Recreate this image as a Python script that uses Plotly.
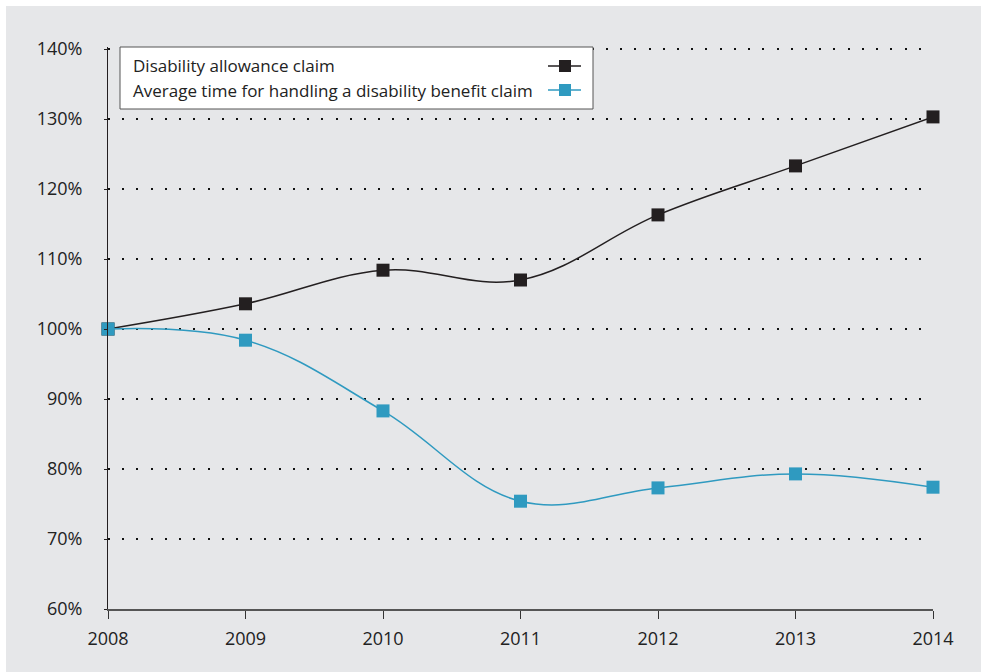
import plotly.graph_objects as go

years = [2008, 2009, 2010, 2011, 2012, 2013, 2014]
allowance_claims = [100, 103.6, 108.4, 107.0, 116.3, 123.3, 130.3]
handling_time = [100, 98.4, 88.3, 75.4, 77.3, 79.3, 77.4]
series_names = ["Disability allowance claim",
                "Average time for handling a disability benefit claim"]
y_ticks = [60, 70, 80, 90, 100, 110, 120, 130, 140]
y_tick_labels = [f"{v}%" for v in y_ticks]

BLACK = "#231f20"
BLUE = "#2f9ac0"
BG = "#e6e7e9"
FONT = "Open Sans"
TXT = "#222222"

W, H = 981, 672
L, R, T, B = 108, 933, 47, 609
Y_LO, PX_PER_UNIT = 60, 7.0
Y_HI = Y_LO + (B - T) / PX_PER_UNIT


def px(x):
    return (x - L) / (R - L)


def py(y):
    return (B - y) / (B - T)


fig = go.Figure()
fig.add_trace(go.Scatter(
    x=years, y=allowance_claims, mode="lines+markers", name=series_names[0],
    line=dict(color=BLACK, width=1.5, shape="spline", smoothing=1.1),
    marker=dict(symbol="square", size=13, color=BLACK), showlegend=False,
    cliponaxis=False))
fig.add_trace(go.Scatter(
    x=years, y=handling_time, mode="lines+markers", name=series_names[1],
    line=dict(color=BLUE, width=1.5, shape="spline", smoothing=1.1),
    marker=dict(symbol="square", size=13, color=BLUE), showlegend=False,
    cliponaxis=False))

shapes = [
    dict(type="rect", xref="paper", yref="paper", layer="below",
         x0=px(6), x1=px(W + 5), y0=py(H + 5), y1=py(6),
         fillcolor=BG, line=dict(width=0)),
    dict(type="rect", xref="paper", yref="paper", layer="above",
         x0=px(120), x1=px(593), y0=py(109), y1=py(47),
         fillcolor="white", line=dict(color="#555555", width=1)),
]
annotations = []
legend_rows = [(66, BLACK, series_names[0]), (90, BLUE, series_names[1])]
for yy, col, name in legend_rows:
    shapes.append(dict(type="line", xref="paper", yref="paper", layer="above",
                       x0=px(548), x1=px(581), y0=py(yy), y1=py(yy),
                       line=dict(color=col, width=1.5)))
    shapes.append(dict(type="rect", xref="paper", yref="paper", layer="above",
                       x0=px(559), x1=px(571), y0=py(yy + 6), y1=py(yy - 6),
                       fillcolor=col, line=dict(width=0)))
    annotations.append(dict(xref="paper", yref="paper", x=px(131), y=py(yy),
                            xanchor="left", yanchor="middle", showarrow=False,
                            text=name, font=dict(family=FONT, size=17, color=TXT)))

fig.update_layout(
    width=W, height=H,
    margin=dict(l=L, r=W - R, t=T, b=H - B),
    paper_bgcolor="white", plot_bgcolor="rgba(0,0,0,0)",
    shapes=shapes, annotations=annotations,
    font=dict(family=FONT, size=17, color=TXT),
    xaxis=dict(range=[2008, 2014], tickvals=years, ticktext=[str(y) for y in years],
               showgrid=False, zeroline=False, showline=True, linecolor="#555555",
               linewidth=1.5, ticks="outside", ticklen=8, tickcolor="#333333",
               tickwidth=1, ticklabelstandoff=5,
               tickfont=dict(family=FONT, size=18, color=TXT)),
    yaxis=dict(range=[Y_LO, Y_HI], tickvals=y_ticks, ticktext=y_tick_labels,
               showgrid=True, gridcolor="#111111", gridwidth=2,
               griddash="2px,12.224px",
               zeroline=False, showline=True, linecolor=BLACK, linewidth=1,
               ticks="outside", ticklen=3, tickcolor=BLACK, tickwidth=1,
               ticklabelstandoff=18,
               tickfont=dict(family=FONT, size=18, color=TXT)),
)
fig.write_html("out.html")
